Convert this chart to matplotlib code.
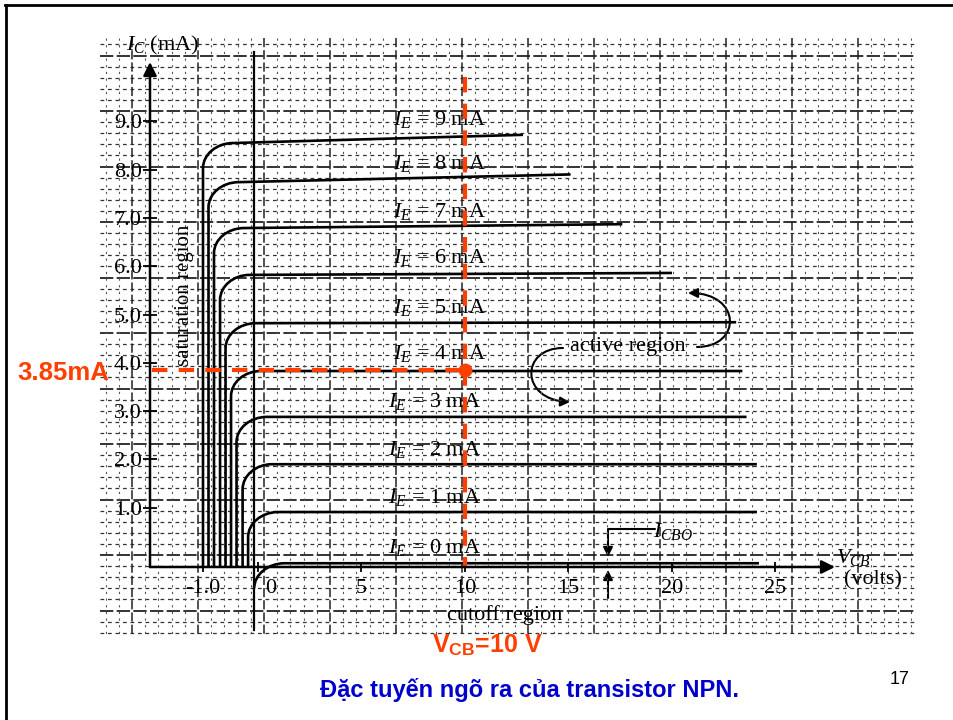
import numpy as np
import matplotlib
matplotlib.use('Agg')
import matplotlib.pyplot as plt
import matplotlib.transforms as mtransforms
from matplotlib.path import Path
from matplotlib.patches import PathPatch, FancyArrowPatch

plt.rcParams['font.family'] = ['Liberation Serif', 'DejaVu Serif']
plt.rcParams['mathtext.fontset'] = 'custom'
plt.rcParams['mathtext.rm'] = 'Liberation Serif'
plt.rcParams['mathtext.it'] = 'Liberation Serif:italic'
plt.rcParams['mathtext.sf'] = 'Liberation Sans:bold'

# emitter current of each curve (mA)
i_e = [0, 1, 2, 3, 4, 5, 6, 7, 8, 9]
# collector current at start / end of the flat (active) part, mA
ic_start = [-0.15, 0.91, 1.90, 2.88, 3.83, 4.82, 5.82, 6.79, 7.74, 8.55]
ic_end = [-0.15, 0.91, 1.90, 2.88, 3.83, 4.84, 5.86, 6.87, 7.90, 8.72]
# V_CB of the saturation drop, of the end of the knee and of the last point
v_sat = [-0.07, -0.18, -0.28, -0.39, -0.49, -0.59, -0.69, -0.80, -0.90, -1.00]
v_knee = [1.3, 0.97, 0.68, 0.43, 0.14, -0.04, -0.15, -0.25, -0.35, -0.45]
v_end = [24.2, 24.1, 24.1, 23.6, 23.4, 23.1, 20.0, 17.6, 15.1, 12.8]

x_ticks = [-1, 0, 5, 10, 15, 20, 25]
x_ticklabels = ['-1.0', '0', '5', '10', '15', '20', '25']
y_ticks = [1, 2, 3, 4, 5, 6, 7, 8, 9]
y_ticklabels = ['1.0', '2.0', '3.0', '4.0', '5.0', '6.0', '7.0', '8.0', '9.0']

# operating point
v_q = 10
ic_q = 3.85

RED = '#FF3F00'
BLUE = '#0000CC'

# negative V_CB side is drawn stretched, as in the book
K = 2.657


def fwd(v):
    v = np.asarray(v, dtype=float)
    return np.where(v < 0, v * K, v)


def inv(u):
    u = np.asarray(u, dtype=float)
    return np.where(u < 0, u / K, u)


# pixel calibration of the scanned graph
X0, SX = 258, 20.7
Y0, SY = 556, 48.3
W, H = 954, 720

fig = plt.figure(figsize=(W / 100, H / 100), dpi=100)
bg = fig.add_axes([0, 0, 1, 1], label='paper')
bg.set_xlim(0, W)
bg.set_ylim(H, 0)
bg.axis('off')

# graph paper
ys = 111 + 11.1 * np.arange(-6, 48)
for n, y in zip(range(-6, 48), ys):
    if n % 5 == 0:
        bg.plot([100, 915], [y, y], color='#111111', lw=1.2, dashes=(8, 2))
    else:
        bg.plot([100, 915], [y, y], color='#333333', lw=0.9, dashes=(3, 3))
xs = 132 + 13.2 * np.arange(-2, 60)
for n, x in zip(range(-2, 60), xs):
    if n % 5 == 0:
        bg.plot([x, x], [38, 635], color='#222222', lw=1.1, dashes=(6, 2))
    else:
        bg.plot([x, x], [38, 635], color='#555555', lw=0.8, dashes=(2, 4))

# slide frame
bg.plot([5, W], [5, 5], color='black', lw=2, clip_on=False)
bg.plot([6, 6], [5, H], color='black', lw=2, clip_on=False)

ax = fig.add_axes([0, 0, 1, 1], label='plot')
ax.patch.set_alpha(0)
ax.set_xscale('function', functions=(fwd, inv))
ax.set_xlim(float(inv((0 - X0) / SX)), (W - X0) / SX)
ax.set_ylim((Y0 - H) / SY, Y0 / SY)

v_axis = float(inv((150 - X0) / SX))
i_axis = (Y0 - 567) / SY

for s in ax.spines.values():
    s.set_color('none')
ax.spines['left'].set_position(('data', v_axis))
ax.spines['bottom'].set_position(('data', i_axis))
ax.set_xticks(x_ticks)
ax.set_xticklabels(x_ticklabels)
ax.set_yticks(y_ticks)
ax.set_yticklabels(y_ticklabels)
ax.minorticks_off()
ax.tick_params(axis='x', direction='inout', length=7, width=1.3, pad=5, labelsize=16)
ax.tick_params(axis='y', direction='inout', length=10, width=1.3, pad=1, labelsize=16)
# the "0" label sits right of the boundary line in the book
lab0 = ax.get_xticklabels()[1]
lab0.set_transform(lab0.get_transform() +
                   mtransforms.ScaledTranslation(13 / 100, 0, fig.dpi_scale_trans))

# axes arrows
ax.annotate('', xy=(v_axis, (Y0 - 62) / SY), xytext=(v_axis, i_axis),
            arrowprops=dict(arrowstyle='-|>', lw=1.8, color='black', mutation_scale=20,
                            shrinkA=0, shrinkB=0))
ax.annotate('', xy=((835 - X0) / SX, i_axis), xytext=(v_axis, i_axis),
            arrowprops=dict(arrowstyle='-|>', lw=1.8, color='black', mutation_scale=20,
                            shrinkA=0, shrinkB=0))

# boundary line at V_CB = 0
ax.plot([-0.07, -0.07], [(Y0 - 52) / SY, (Y0 - 630) / SY], color='black', lw=1.6)

# characteristic curves
r = 0.52
for k in range(len(i_e)):
    bottom = min(i_axis, ic_start[k] - r)
    us, uk = float(fwd(v_sat[k])), float(fwd(v_knee[k]))
    verts = [(v_sat[k], bottom),
             (v_sat[k], ic_start[k] - r),
             (v_sat[k], ic_start[k] - 0.45 * r),
             (float(inv(uk - 0.55 * (uk - us))), ic_start[k]),
             (v_knee[k], ic_start[k]),
             (v_end[k], ic_end[k])]
    codes = [Path.MOVETO, Path.LINETO, Path.CURVE4, Path.CURVE4, Path.CURVE4, Path.LINETO]
    ax.add_patch(PathPatch(Path(verts, codes), fill=False, lw=1.9, ec='black'))

# curve labels
label_y = [547, 497, 450, 402, 353, 307, 258, 212, 163, 120]
label_x = [388, 388, 388, 388, 393, 393, 393, 393, 393, 393]
for k in range(len(i_e)):
    bg.text(label_x[k], label_y[k], r'$I_E$ = %d mA' % i_e[k], fontsize=16,
            ha='left', va='center')

bg.text(126, 45, r'$I_C$ (mA)', fontsize=16, ha='left', va='center')
bg.text(185, 295, 'saturation region', fontsize=15, rotation=90, ha='center', va='center')
bg.text(570, 347, 'active region', fontsize=16, ha='left', va='center')
bg.text(447, 615, 'cutoff region', fontsize=16, ha='left', va='center')
bg.text(653, 532, r'$I_{CBO}$', fontsize=16, ha='left', va='center')
bg.text(836, 558, r'$V_{CB}$', fontsize=16, ha='left', va='center')
bg.text(844, 580, '(volts)', fontsize=16, ha='left', va='center')

# active region arrows
arr = dict(arrowstyle='-|>', mutation_scale=14, lw=1.5, color='black')
p1 = Path([(697, 347), (742, 347), (742, 293), (688, 293)],
          [Path.MOVETO, Path.CURVE4, Path.CURVE4, Path.CURVE4])
bg.add_patch(FancyArrowPatch(path=p1, **arr))
p2 = Path([(563, 348), (520, 348), (520, 400), (570, 402)],
          [Path.MOVETO, Path.CURVE4, Path.CURVE4, Path.CURVE4])
bg.add_patch(FancyArrowPatch(path=p2, **arr))
# I_CBO pointers
p3 = Path([(655, 529), (608, 529), (608, 557)], [Path.MOVETO, Path.LINETO, Path.LINETO])
bg.add_patch(FancyArrowPatch(path=p3, **arr))
p4 = Path([(608, 598), (608, 570)], [Path.MOVETO, Path.LINETO])
bg.add_patch(FancyArrowPatch(path=p4, **arr))

# operating point marks
ax.plot([v_q, v_q], [(Y0 - 77) / SY, i_axis], color=RED, lw=3, dashes=(3.7, 2.7))
ax.plot([float(inv((152 - X0) / SX)), v_q], [ic_q, ic_q], color=RED, lw=3, dashes=(3.7, 2.7))
ax.plot([v_q], [ic_q], 'o', color=RED, ms=9)

bg.text(17, 373, '%.2fmA' % ic_q, color=RED, fontsize=18.5, fontweight='bold',
        family='Liberation Sans', ha='left', va='center')
bg.text(432, 645, r'V$_{\mathsf{CB}}$=%d V' % v_q, color=RED, fontsize=18, fontweight='bold',
        family='Liberation Sans', ha='left', va='center')
bg.text(530, 690, 'Đặc tuyến ngõ ra của transistor NPN.', color=BLUE, fontsize=17,
        fontweight='bold', family='Liberation Sans', ha='center', va='center')
bg.text(900, 680, '17', fontsize=13, family='Liberation Sans', ha='center', va='center')

fig.savefig('out.png', dpi=100)
